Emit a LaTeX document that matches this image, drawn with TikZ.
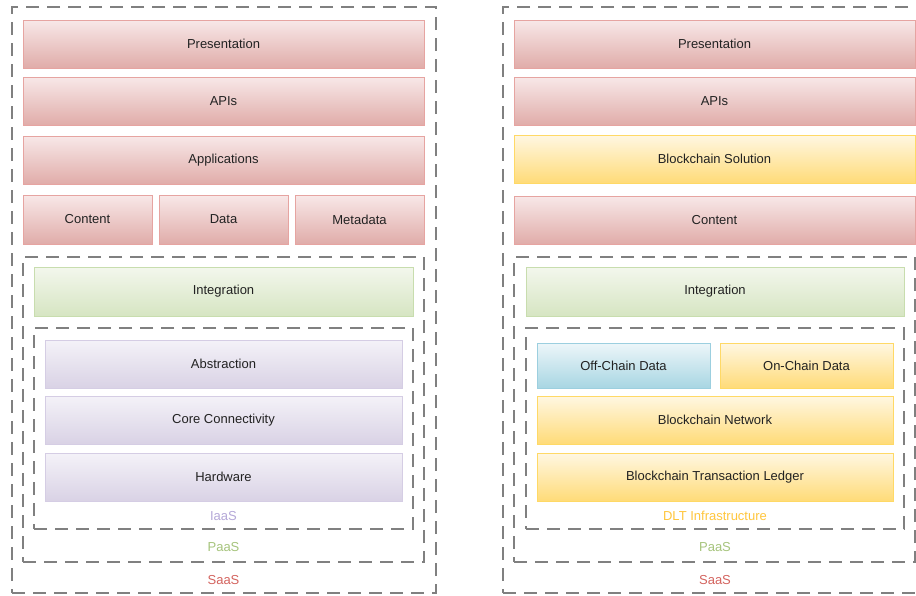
\documentclass[tikz,border=0pt]{standalone}
\usepackage{fontspec}
\setmainfont{Liberation Sans}
\definecolor{redtop}{HTML}{F8E8E8}
\definecolor{redbot}{HTML}{E0ACA9}
\definecolor{redline}{HTML}{E6A4A1}
\definecolor{greentop}{HTML}{F3F7ED}
\definecolor{greenbot}{HTML}{D6E5C2}
\definecolor{greenline}{HTML}{C8DDAE}
\definecolor{purptop}{HTML}{F4F2F8}
\definecolor{purpbot}{HTML}{D9D2E5}
\definecolor{purpline}{HTML}{D5CDE4}
\definecolor{yeltop}{HTML}{FFF7E2}
\definecolor{yelbot}{HTML}{FFDB78}
\definecolor{yelline}{HTML}{FFD966}
\definecolor{bluetop}{HTML}{EDF6F9}
\definecolor{bluebot}{HTML}{A8D6E3}
\definecolor{blueline}{HTML}{9CCFDF}
\definecolor{dashgray}{HTML}{808080}
\definecolor{iaascol}{HTML}{B5A8D8}
\definecolor{paascol}{HTML}{A6C47C}
\definecolor{saascol}{HTML}{D4645F}
\definecolor{dltcol}{HTML}{FFC63D}
\definecolor{txt}{HTML}{222222}
\tikzset{
  layer/.style={draw, line width=1pt, inner sep=0pt, outer sep=0pt, anchor=north west,
    font=\fontsize{13}{15}\selectfont, text=txt},
  redlayer/.style={layer, draw=redline, top color=redtop, bottom color=redbot},
  greenlayer/.style={layer, draw=greenline, top color=greentop, bottom color=greenbot},
  purplayer/.style={layer, draw=purpline, top color=purptop, bottom color=purpbot},
  yellayer/.style={layer, draw=yelline, top color=yeltop, bottom color=yelbot},
  bluelayer/.style={layer, draw=blueline, top color=bluetop, bottom color=bluebot},
  tier/.style={draw=dashgray, line width=2.6pt, dash pattern=on 13pt off 8pt,
    inner sep=0pt, outer sep=0pt, anchor=north west},
  tiername/.style={font=\fontsize{13}{15}\selectfont, inner sep=0pt},
  wide/.style={minimum width=401pt, minimum height=48pt},
}
\begin{document}
\begin{tikzpicture}[x=1pt,y=-1pt]
\clip (0,0) rectangle (916,595);
\fill[white] (0,0) rectangle (916,595);

% ---------------- classic cloud stack ----------------
\node[tier, minimum width=424pt, minimum height=586pt] (saasA) at (12,7) {};
\node[tier, minimum width=401pt, minimum height=305pt] (paasA) at (23,257) {};
\node[tier, minimum width=379pt, minimum height=201pt] (iaasA) at (34,328) {};

\node[redlayer, wide] (presA) at (23,20) {Presentation};
\node[redlayer, wide] (apisA) at (23,77) {APIs};
\node[redlayer, wide] (appsA) at (23,136) {Applications};
\node[redlayer, minimum width=129pt, minimum height=49pt] (contA) at (23,195) {Content};
\node[redlayer, minimum width=129pt, minimum height=49pt] (dataA) at (159,195) {Data};
\node[redlayer, minimum width=129pt, minimum height=49pt] (metaA) at (295,195) {Metadata};
\node[greenlayer, minimum width=379pt, minimum height=49pt] (integA) at (34,267) {Integration};
\node[purplayer, minimum width=357pt, minimum height=48pt] (abstA) at (45,340) {Abstraction};
\node[purplayer, minimum width=357pt, minimum height=48pt] (coreA) at (45,396) {Core Connectivity};
\node[purplayer, minimum width=357pt, minimum height=48pt] (hwA) at (45,453) {Hardware};

\node[tiername, text=iaascol] (iaasAtext) at (223.5,516) {IaaS};
\node[tiername, text=paascol] (paasAtext) at (223.5,547) {PaaS};
\node[tiername, text=saascol] (saasAtext) at (223.5,580) {SaaS};

% ---------------- blockchain stack ----------------
\node[tier, minimum width=424pt, minimum height=586pt] (saasB) at (503,7) {};
\node[tier, minimum width=401pt, minimum height=305pt] (paasB) at (514,257) {};
\node[tier, minimum width=378pt, minimum height=201pt] (dltB) at (526,328) {};

\node[redlayer, wide] (presB) at (514,20) {Presentation};
\node[redlayer, wide] (apisB) at (514,77) {APIs};
\node[yellayer, wide] (solB) at (514,135) {Blockchain Solution};
\node[redlayer, wide] (contB) at (514,196) {Content};
\node[greenlayer, minimum width=378pt, minimum height=49pt] (integB) at (526,267) {Integration};
\node[bluelayer, minimum width=173pt, minimum height=45pt] (offB) at (537,343) {Off-Chain Data};
\node[yellayer, minimum width=173pt, minimum height=45pt] (onB) at (720,343) {On-Chain Data};
\node[yellayer, minimum width=356pt, minimum height=48pt] (netB) at (537,396) {Blockchain Network};
\node[yellayer, minimum width=356pt, minimum height=48pt] (ledgB) at (537,453) {Blockchain Transaction Ledger};

\node[tiername, text=dltcol] (dltBtext) at (715,516) {DLT Infrastructure};
\node[tiername, text=paascol] (paasBtext) at (715,547) {PaaS};
\node[tiername, text=saascol] (saasBtext) at (715,580) {SaaS};
\end{tikzpicture}
\end{document}
